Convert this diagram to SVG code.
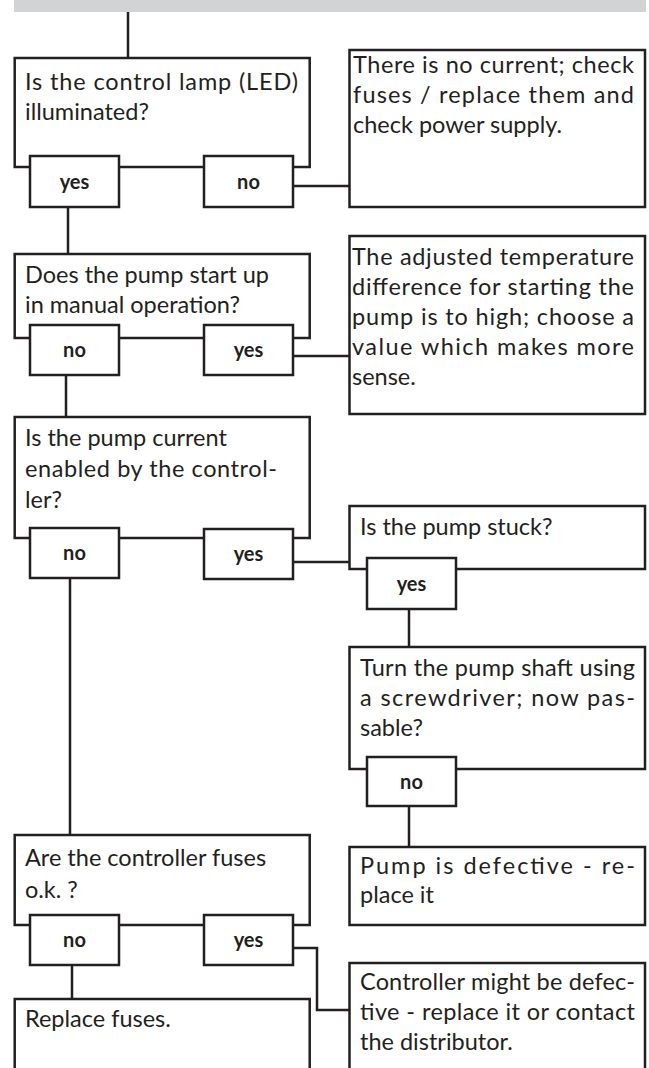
<svg xmlns="http://www.w3.org/2000/svg" width="649" height="1068" viewBox="0 0 649 1068">
<style>
.box{fill:#fff;stroke:#231f20;stroke-width:2.5}
.lbl{fill:#fff;stroke:#231f20;stroke-width:2.5}
.ln{fill:none;stroke:#231f20;stroke-width:2.5}
.t{font-family:Lato,"Open Sans","Liberation Sans",sans-serif;font-size:23.5px;fill:#231f20}
.b{font-family:Lato,"Open Sans","Liberation Sans",sans-serif;font-size:20px;font-weight:bold;fill:#231f20;text-anchor:middle}
</style>
<rect x="14" y="0" width="632" height="12" fill="#d1d3d4"/>
<g id="connectors">
<line class="ln" x1="128" y1="12" x2="128" y2="58"/>
<line class="ln" x1="293" y1="186" x2="350" y2="186"/>
<line class="ln" x1="68" y1="207" x2="68" y2="254"/>
<line class="ln" x1="293" y1="356" x2="350" y2="356"/>
<line class="ln" x1="66" y1="375" x2="66" y2="417"/>
<line class="ln" x1="293" y1="562" x2="350" y2="562"/>
<line class="ln" x1="409" y1="609" x2="409" y2="647"/>
<line class="ln" x1="409" y1="806" x2="409" y2="847"/>
<line class="ln" x1="70" y1="578" x2="70" y2="835"/>
<line class="ln" x1="72" y1="965" x2="72" y2="999"/>
<polyline class="ln" points="293,948 317,948 317,1010 350,1010"/>
</g>
<g id="q1">
<rect class="box" x="14.7" y="58" width="295" height="109"/>
<text class="t" x="25" y="90" textLength="273" lengthAdjust="spacing">Is the control lamp (LED)</text>
<text class="t" x="25" y="120">illuminated?</text>
<rect class="lbl" x="30" y="156" width="89" height="51"/>
<text class="b" x="74.5" y="189">yes</text>
<rect class="lbl" x="204" y="156" width="89" height="51"/>
<text class="b" x="248.5" y="189">no</text>
</g>
<g id="a1">
<rect class="box" x="349.5" y="50" width="295.5" height="157"/>
<text class="t" x="353" y="73" textLength="281" lengthAdjust="spacing">There is no current; check</text>
<text class="t" x="353" y="103" textLength="281" lengthAdjust="spacing">fuses / replace them and</text>
<text class="t" x="353" y="133">check power supply.</text>
</g>
<g id="q2">
<rect class="box" x="14.7" y="254" width="295" height="84"/>
<text class="t" x="25" y="283">Does the pump start up</text>
<text class="t" x="25" y="313">in manual operation?</text>
<rect class="lbl" x="30" y="325" width="89" height="50"/>
<text class="b" x="74.5" y="357">no</text>
<rect class="lbl" x="204" y="325" width="89" height="50"/>
<text class="b" x="248.5" y="357">yes</text>
</g>
<g id="a2">
<rect class="box" x="349.5" y="236" width="295.5" height="178"/>
<text class="t" x="352" y="265" textLength="282" lengthAdjust="spacing">The adjusted temperature</text>
<text class="t" x="352" y="295" textLength="282" lengthAdjust="spacing">difference for starting the</text>
<text class="t" x="352" y="325" textLength="282" lengthAdjust="spacing">pump is to high; choose a</text>
<text class="t" x="352" y="355" textLength="282" lengthAdjust="spacing">value which makes more</text>
<text class="t" x="352" y="385">sense.</text>
</g>
<g id="q3">
<rect class="box" x="14.7" y="417" width="295" height="121"/>
<text class="t" x="25" y="446">Is the pump current</text>
<text class="t" x="25" y="477" textLength="252" lengthAdjust="spacing">enabled by the control-</text>
<text class="t" x="25" y="508">ler?</text>
<rect class="lbl" x="30" y="528" width="89" height="50"/>
<text class="b" x="74.5" y="560">no</text>
<rect class="lbl" x="204" y="529" width="89" height="50"/>
<text class="b" x="248.5" y="561">yes</text>
</g>
<g id="q4">
<rect class="box" x="349.5" y="506" width="295.5" height="63"/>
<text class="t" x="360" y="535">Is the pump stuck?</text>
<rect class="lbl" x="367" y="558" width="89" height="51"/>
<text class="b" x="411.5" y="591">yes</text>
</g>
<g id="q5">
<rect class="box" x="349.5" y="647" width="295.5" height="122"/>
<text class="t" x="360" y="676" textLength="275" lengthAdjust="spacing">Turn the pump shaft using</text>
<text class="t" x="360" y="706" textLength="275" lengthAdjust="spacing">a screwdriver; now pas-</text>
<text class="t" x="360" y="736">sable?</text>
<rect class="lbl" x="367" y="757" width="89" height="49"/>
<text class="b" x="411.5" y="789">no</text>
</g>
<g id="a3">
<rect class="box" x="349.5" y="847" width="295.5" height="78"/>
<text class="t" x="360" y="874" textLength="275" lengthAdjust="spacing">Pump is defective - re-</text>
<text class="t" x="360" y="903">place it</text>
</g>
<g id="q6">
<rect class="box" x="14.7" y="835" width="295" height="90"/>
<text class="t" x="25" y="866">Are the controller fuses</text>
<text class="t" x="25" y="898">o.k. ?</text>
<rect class="lbl" x="30" y="915" width="89" height="50"/>
<text class="b" x="74.5" y="947">no</text>
<rect class="lbl" x="204" y="915" width="89" height="50"/>
<text class="b" x="248.5" y="947">yes</text>
</g>
<g id="a4">
<rect class="box" x="14.7" y="999" width="295" height="80"/>
<text class="t" x="25" y="1027">Replace fuses.</text>
</g>
<g id="a5">
<rect class="box" x="349.5" y="963" width="295.5" height="120"/>
<text class="t" x="360" y="990" textLength="275" lengthAdjust="spacing">Controller might be defec-</text>
<text class="t" x="360" y="1020" textLength="275" lengthAdjust="spacing">tive - replace it or contact</text>
<text class="t" x="360" y="1050">the distributor.</text>
</g>
</svg>
